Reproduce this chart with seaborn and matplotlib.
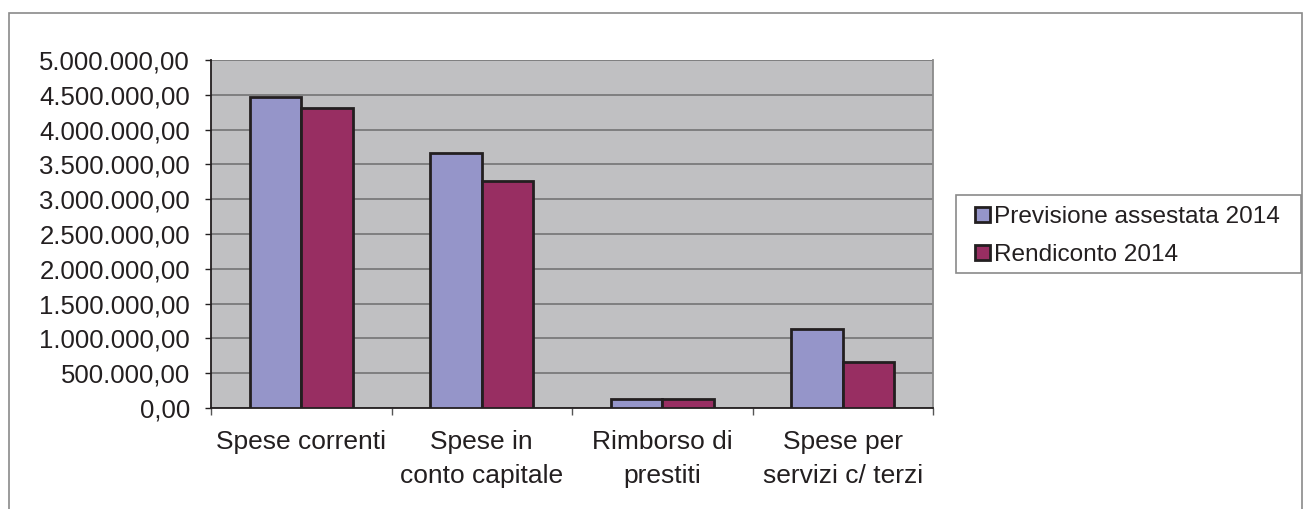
import matplotlib
matplotlib.use("Agg")
import matplotlib.pyplot as plt
import seaborn as sns
import pandas as pd
from matplotlib.ticker import FuncFormatter, FixedLocator
from matplotlib.patches import Rectangle

categories = ["Spese correnti", "Spese in\nconto capitale", "Rimborso di\nprestiti", "Spese per\nservizi c/ terzi"]
series_names = ["Previsione assestata 2014", "Rendiconto 2014"]
previsione = [4465000, 3665000, 125000, 1130000]
rendiconto = [4315000, 3265000, 125000, 660000]

df = pd.DataFrame({
    "cat": categories * 2,
    "serie": [series_names[0]] * 4 + [series_names[1]] * 4,
    "val": previsione + rendiconto,
})

sns.set_style("white")
plt.rcParams["font.family"] = ["Liberation Sans", "DejaVu Sans"]
txt = "#231f20"
W, H = 1305, 509

fig = plt.figure(figsize=(W/100, H/100), dpi=100)
ax = fig.add_axes([211/W, 1-408/H, (933-211)/W, (408-60)/H])
ax.set_facecolor("#c0c0c2")

sns.barplot(data=df, x="cat", y="val", hue="serie", order=categories,
            hue_order=series_names, palette=["#9595c9", "#982e62"],
            width=0.57, gap=0, edgecolor="#231f20", linewidth=2.0,
            saturation=1, ax=ax, legend=True, zorder=3)

ax.set_ylim(0, 5000000)
ax.set_xlim(-0.5, 3.5)
ax.set_yticks(range(0, 5000001, 500000))
ax.yaxis.set_major_formatter(FuncFormatter(
    lambda v, p: f"{v:,.2f}".replace(",", "X").replace(".", ",").replace("X", ".")))
ax.yaxis.grid(True, color="#7a7a7a", linewidth=1.3, zorder=0)
ax.set_axisbelow(True)
ax.set_xlabel("")
ax.set_ylabel("")

ax.tick_params(axis="y", left=True, length=4.5, width=1, color="#231f20",
               labelsize=18.5, labelcolor=txt, pad=10.5)
ax.tick_params(axis="x", which="major", length=0, labelsize=19, labelcolor=txt, pad=15.5)
ax.xaxis.set_minor_locator(FixedLocator([-0.5, 0.5, 1.5, 2.5, 3.5]))
ax.tick_params(axis="x", which="minor", bottom=True, length=5, width=1, color="#555555")
for lab in ax.get_xticklabels():
    lab.set_linespacing(1.55)

for s in ["left", "bottom"]:
    ax.spines[s].set_color("#231f20")
    ax.spines[s].set_linewidth(1.3)
ax.spines["right"].set_color("#8a8a8a")
ax.spines["right"].set_linewidth(1.3)
ax.spines["top"].set_visible(False)

handles, labels = ax.get_legend_handles_labels()
ax.legend_.remove()
leg = fig.legend(handles, labels, loc="upper left",
                 bbox_to_anchor=(975/W, 1-206/H), fontsize=17.6,
                 frameon=False, handlelength=0.6, handleheight=0.6,
                 handletextpad=0.16, borderpad=0, labelspacing=0.65,
                 borderaxespad=0)
for t in leg.get_texts():
    t.set_color(txt)

fig.patches.append(Rectangle((956/W, 1-273/H), (1301-956)/W, (273-195)/H,
                             transform=fig.transFigure, fill=False,
                             edgecolor="#8a8a8a", linewidth=1.2))
fig.patches.append(Rectangle((9/W, -0.1), (1302-9)/W, 1.1-13/H,
                             transform=fig.transFigure, fill=False,
                             edgecolor="#8a8a8a", linewidth=1.2))

fig.savefig("out.png", dpi=100)
